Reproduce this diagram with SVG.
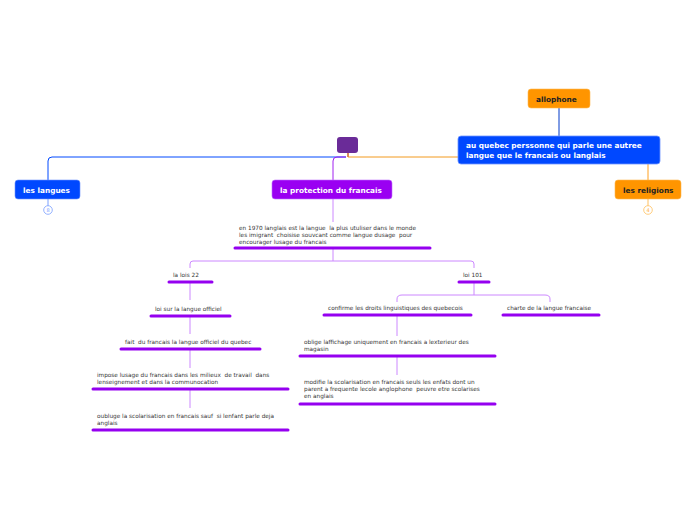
<svg xmlns="http://www.w3.org/2000/svg" width="696" height="520" viewBox="0 0 696 520">
<style>
text{white-space:pre}
.t{font-family:"DejaVu Sans",Verdana,sans-serif;font-size:5.75px;fill:#333}
.b{font-family:"DejaVu Sans",Verdana,sans-serif;font-size:7.35px;font-weight:bold;fill:#fff}
.bk{font-family:"DejaVu Sans",Verdana,sans-serif;font-size:7.35px;font-weight:bold;fill:#222}
.bar{stroke:#9500f0;stroke-width:3;stroke-linecap:round;fill:none}
.lp{stroke:#cc88ff;stroke-width:1;fill:none}
.cnum{font-family:"DejaVu Sans",sans-serif;font-size:5px;text-anchor:middle}
</style>
<rect width="696" height="520" fill="#fff"/>
<g id="connectors">
<path d="M348,153 V157" stroke="#c8602a" stroke-width="1.5" fill="none"/>
<path d="M346,157 H52 Q48,157 48,161 V180" stroke="#0048ff" stroke-width="1" fill="none"/>
<path d="M48,199 V206" stroke="#7aa0ff" stroke-width="1" fill="none"/>
<path d="M348,157 H458" stroke="#f39a1e" stroke-width="1" fill="none"/>
<path d="M346,157 H337 Q333,157 333,161 V180" stroke="#a020f0" stroke-width="1" fill="none"/>
<path d="M559,108 V136" stroke="#0038c8" stroke-width="1" fill="none"/>
<path d="M648,164 V180" stroke="#ffa020" stroke-width="1" fill="none"/>
<path d="M648,199 V206" stroke="#ffc060" stroke-width="1" fill="none"/>
<path class="lp" d="M333,199 V222"/>
<path class="lp" d="M333,248 V261"/>
<path class="lp" d="M190,268 V264 Q190,261 193,261 H471 Q474,261 474,264 V268"/>
<path class="lp" d="M190,282 V300"/>
<path class="lp" d="M190,316 V334"/>
<path class="lp" d="M190,349 V368"/>
<path class="lp" d="M190,389 V408"/>
<path class="lp" d="M474,282 V295"/>
<path class="lp" d="M397,302 V299 Q397,295 402,295 H545 Q550,295 550,299 V302"/>
<path class="lp" d="M397,315 V336"/>
<path class="lp" d="M397,356 V375"/>
</g>
<g id="root"><rect x="337" y="137" width="21" height="16" rx="3" fill="#6a2b98"/></g>
<g id="allophone"><rect x="528" y="89" width="62" height="19" rx="3" fill="#ff9500" stroke="#ffb850" stroke-width="0.6"/><text class="bk" x="536" y="101.5">allophone</text></g>
<g id="auquebec"><rect x="458" y="136" width="202" height="28" rx="3" fill="#0048ff" stroke="#6f95ff" stroke-width="0.8"/><text class="b" x="466" y="148">au quebec perssonne qui parle une autree</text><text class="b" x="466" y="157.5">langue que le francais ou langlais</text></g>
<g id="leslangues"><rect x="15" y="180" width="65" height="19" rx="3" fill="#0048ff" stroke="#6f95ff" stroke-width="0.6"/><text class="b" x="23" y="192.5">les langues</text>
<circle cx="48" cy="210" r="4.3" fill="#fff" stroke="#7aa0ff" stroke-width="0.8"/><text class="cnum" x="48" y="211.8" fill="#7aa0ff">8</text></g>
<g id="religions"><rect x="615" y="180" width="66" height="19" rx="3" fill="#ff9500" stroke="#ffb850" stroke-width="0.6"/><text class="bk" x="623" y="192.5">les religions</text>
<circle cx="648" cy="210" r="4.3" fill="#fff" stroke="#ffc060" stroke-width="0.8"/><text class="cnum" x="648" y="211.8" fill="#ffb040">4</text></g>
<g id="protection"><rect x="272" y="180" width="120" height="19" rx="3" fill="#9a00f2" stroke="#c070ff" stroke-width="0.6"/><text class="b" x="280" y="192.5">la protection du francais</text></g>
<g id="n1970"><text class="t" x="239" y="229.5">en 1970 langlais est la langue  la plus utuliser dans le monde</text><text class="t" x="239" y="236.5">les imigrant  choisise souvcant comme langue dusage  pour</text><text class="t" x="239" y="243.5">encourager lusage du francais</text><path class="bar" d="M235,248 H430"/></g>
<g id="lois22"><text class="t" x="173" y="277">la lois 22</text><path class="bar" d="M169,282 H212"/></g>
<g id="loi101"><text class="t" x="463" y="277">loi 101</text><path class="bar" d="M459,282 H489"/></g>
<g id="officiel"><text class="t" x="155" y="310.5">loi sur la langue officiel</text><path class="bar" d="M151,316 H230"/></g>
<g id="fait"><text class="t" x="125" y="344">fait  du francais la langue officiel du quebec</text><path class="bar" d="M121,349 H260"/></g>
<g id="impose"><text class="t" x="97" y="377">impose lusage du francais dans les milieux  de travail  dans</text><text class="t" x="97" y="384">lenseignement et dans la communocation</text><path class="bar" d="M93,389 H288"/></g>
<g id="oubluge"><text class="t" x="97" y="417.5">oubluge la scolarisation en francais sauf  si lenfant parle deja</text><text class="t" x="97" y="424.5">anglais</text><path class="bar" d="M93,430 H288"/></g>
<g id="confirme"><text class="t" x="328" y="310">confirme les droits linguistiques des quebecois</text><path class="bar" d="M324,315 H471"/></g>
<g id="charte"><text class="t" x="507" y="310">charte de la langue francaise</text><path class="bar" d="M503,315 H599"/></g>
<g id="oblige"><text class="t" x="304" y="343.5">oblige laffichage uniquement en francais a lexterieur des</text><text class="t" x="304" y="350.5">magasin</text><path class="bar" d="M300,356 H495"/></g>
<g id="modifie"><text class="t" x="304" y="383.5">modifie la scolarisation en francais seuls les enfats dont un</text><text class="t" x="304" y="390.5">parent a frequente lecole anglophone  peuvre etre scolarises</text><text class="t" x="304" y="397.5">en anglais</text><path class="bar" d="M300,404 H495"/></g>
</svg>
